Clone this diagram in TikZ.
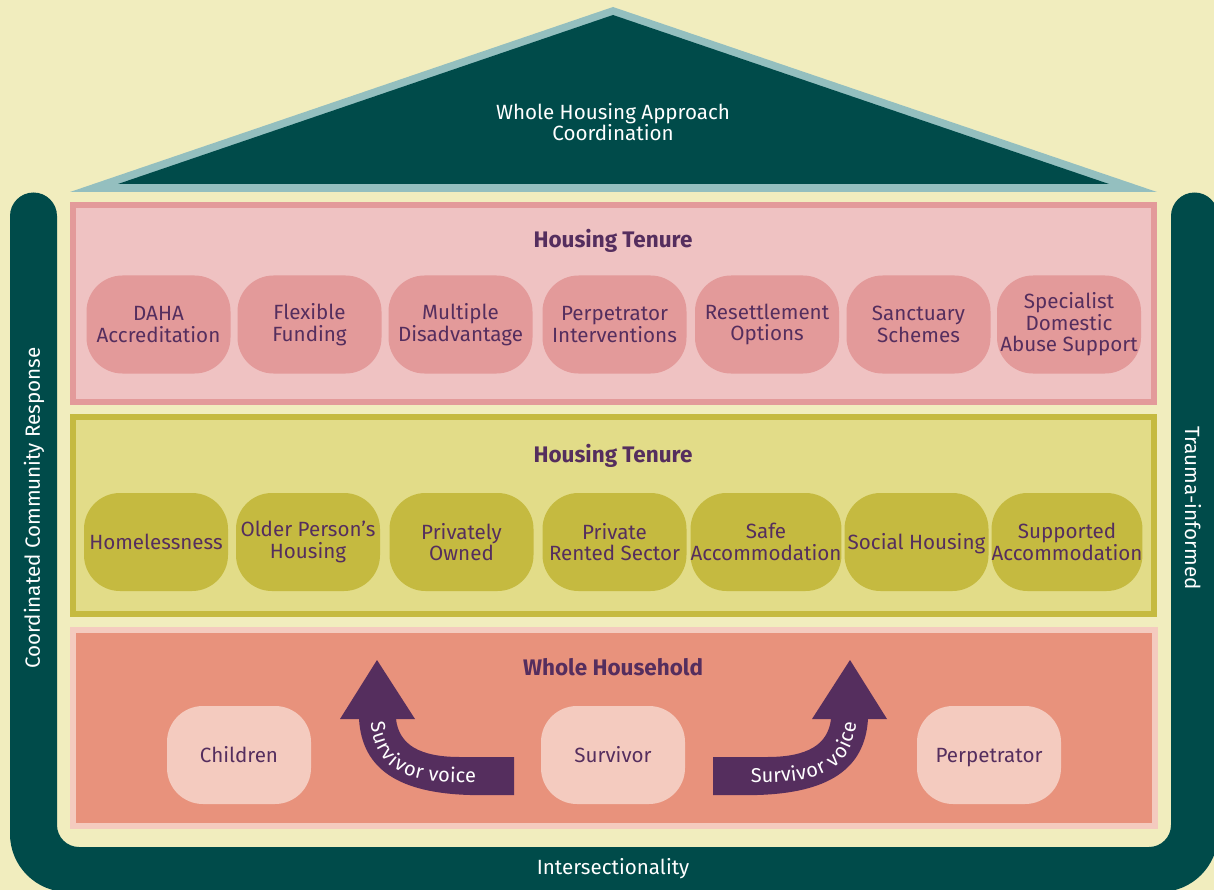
\documentclass[tikz,border=0pt]{standalone}
\usepackage{fontspec}
\setmainfont{Fira Sans}
\usetikzlibrary{calc,decorations.text}

\definecolor{cream}{HTML}{F1EDBE}
\definecolor{deep}{HTML}{004B4A}
\definecolor{roofline}{HTML}{94BFBF}
\definecolor{plum}{HTML}{552E5E}
\definecolor{rose}{HTML}{E39A9A}
\definecolor{roseback}{HTML}{EFC2C2}
\definecolor{olive}{HTML}{C5BA40}
\definecolor{oliveback}{HTML}{E2DC88}
\definecolor{salmon}{HTML}{E8927C}
\definecolor{blush}{HTML}{F4CBBF}

\begin{document}
\begin{tikzpicture}[x=1pt,y=-1pt,font=\fontsize{20.6}{21.5}\selectfont]
\tikzset{P/.style={rounded corners=36pt,minimum width=144pt,minimum height=98pt,inner sep=0pt,align=center,text=plum},
O/.style={text height=17pt,text depth=2pt},
T/.style={font=\fontsize{22.5}{24}\selectfont\bfseries,text=plum},
W/.style={text=white,align=center}
}

\useasboundingbox (0,0) rectangle (1214,890);
\fill[cream] (0,0) rectangle (1214,890);

% The roof
\fill[roofline] (70,192) -- (613,7) -- (1157,192) -- cycle;
\fill[deep] (118,184) -- (613,15) -- (1109,184) -- cycle;
\node(roof)[W] at (613,122) {Whole Housing Approach\\Coordination};

% The pillars and the floor
\fill[deep] (10,216) arc[start angle=180,end angle=360,radius=23.5] -- (57,825)
arc[start angle=180,end angle=90,radius=22] -- (1149,847)
arc[start angle=90,end angle=0,radius=22] -- (1171,216)
arc[start angle=180,end angle=360,radius=23.5] -- (1218,834)
arc[start angle=0,end angle=90,radius=58] -- (68,892)
arc[start angle=90,end angle=180,radius=58] -- cycle;

\node(ccr)[W,rotate=90] at (34,508) {Coordinated Community Response};
\node(trauma)[W,rotate=-90] at (1193,508) {Trauma-informed};
\node(inter)[W] at (613,869) {Intersectionality};

% First level
\draw[line width=6pt,draw=rose,fill=roseback] (73,205) rectangle (1154,402);
\node(t1)[T] at (613,241) {Housing Tenure};

\node(daha)[P,fill=rose] at (158.5,324.5) {DAHA\\Accreditation};
\node(flex)[P,fill=rose] at (309.5,324.5) {Flexible\\Funding};
\node(multi)[P,fill=rose] at (460.5,324.5) {Multiple\\Disadvantage};
\node(perpint)[P,fill=rose] at (614.5,324.5) {Perpetrator\\Interventions};
\node(resettle)[P,fill=rose] at (767,324.5) {Resettlement\\Options};
\node(sanct)[P,fill=rose] at (918.5,324.5) {Sanctuary\\Schemes};
\node(spec)[P,fill=rose] at (1069,324.5) {Specialist\\Domestic\\Abuse Support};

% Second level
\draw[line width=6pt,draw=olive,fill=oliveback] (73,417) rectangle (1154,614);
\node(t2)[T] at (613,456) {Housing Tenure};

\node(home)[P,O,fill=olive] at (156,542) {Homelessness};
\node(older)[P,fill=olive] at (308,542) {Older Person’s\\Housing};
\node(owned)[P,fill=olive] at (461.5,542) {Privately\\Owned};
\node(rented)[P,fill=olive] at (614.5,542) {Private\\Rented Sector};
\node(safe)[P,fill=olive] at (766,542) {Safe\\Accommodation};
\node(social)[P,O,fill=olive] at (916.5,542) {Social Housing};
\node(supp)[P,fill=olive] at (1067,542) {Supported\\Accommodation};

% Third level
\draw[line width=6pt,draw=blush,fill=salmon] (73,630) rectangle (1155,826);
\node(t3)[T] at (613,667) {Whole Household};

\node(child)[P,O,fill=blush] at (239,755) {Children};
\node(surv)[P,O,fill=blush] at (613,755) {Survivor};
\node(perp)[P,O,fill=blush] at (989,755) {Perpetrator};

% survivor voice arrows
\fill[plum] (514,757) -- (514,795) -- (470,795) .. controls (400,793) and (362,770) .. (359,719)
-- (340,719) -- (377,660) -- (415,719) -- (396,719) .. controls (399,745) and (420,757) .. (460,757) -- cycle;
\fill[plum] (713,757) -- (713,795) -- (757,795) .. controls (827,793) and (865,770) .. (868,719)
-- (887,719) -- (850,660) -- (812,719) -- (831,719) .. controls (828,745) and (807,757) .. (767,757) -- cycle;

\path[decorate,decoration={text along path,text color=white,raise=-6.5pt,
text={|\fontsize{20}{20}\selectfont|Survivor voice},text align={left indent=3pt}}]
(377,719) .. controls (380,772) and (420,776) .. (470,776) -- (514,776);
\path[decorate,decoration={text along path,text color=white,raise=-6.5pt,
text={|\fontsize{20}{20}\selectfont|Survivor voice},text align={right,right indent=3pt}}]
(713,776) -- (757,776) .. controls (807,776) and (847,772) .. (850,719);

\end{tikzpicture}
\end{document}
